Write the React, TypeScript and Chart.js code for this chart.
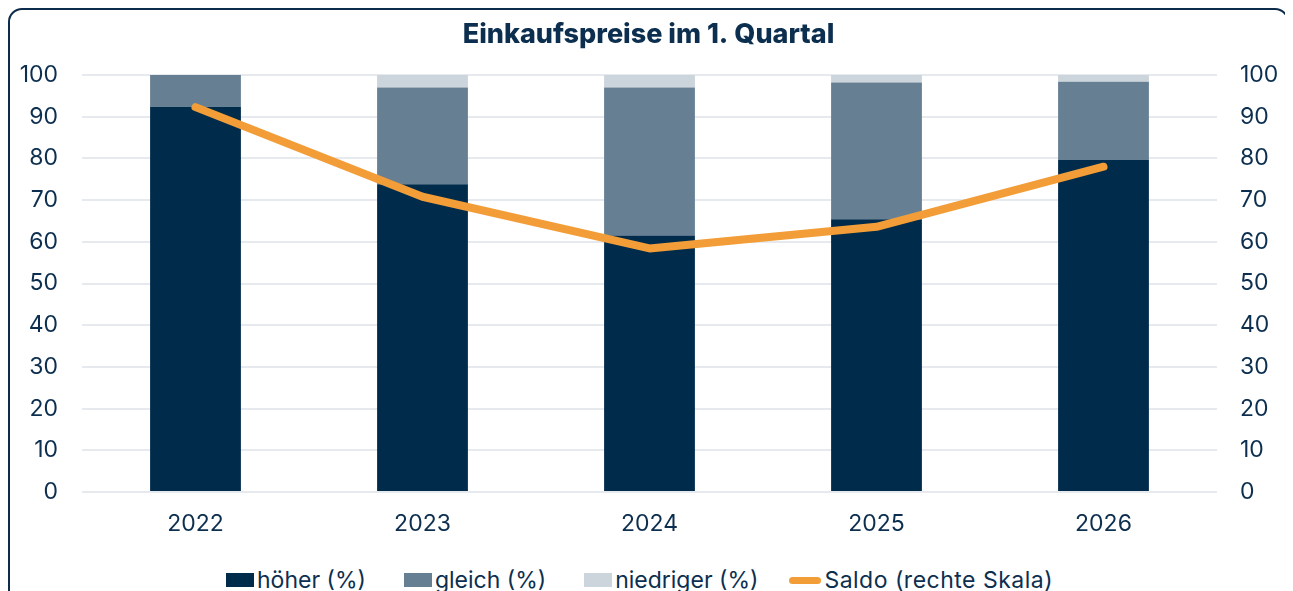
import React, { useEffect, useRef } from "react";
import { Chart, registerables } from "chart.js";

Chart.register(...registerables);

const categories = ["2022", "2023", "2024", "2025", "2026"];
const hoeher = [92.4, 73.8, 61.5, 65.4, 79.6];
const gleich = [7.6, 23.2, 35.5, 32.8, 18.8];
const niedriger = [0, 3.0, 3.0, 1.8, 1.6];
const saldo = [92.3, 70.8, 58.4, 63.6, 78.0];
const titleText = "Einkaufspreise im 1. Quartal";
const legendLabels = ["höher (%)", "gleich (%)", "niedriger (%)", "Saldo (rechte Skala)"];

const NAVY = "#002b4b";
const MID = "#667f93";
const LIGHT = "#ccd4dc";
const ORANGE = "#f29d37";
const TEXT = "#0d2f4f";
const FONT = "Inter, 'Noto Sans', sans-serif";

export default function App() {
  const ref = useRef<HTMLCanvasElement | null>(null);

  useEffect(() => {
    document.documentElement.style.overflow = "hidden";
    const canvas = ref.current;
    if (!canvas) return;
    const chart = new Chart(canvas, {
      type: "bar",
      data: {
        labels: categories,
        datasets: [
          {
            type: "line",
            label: legendLabels[3],
            data: saldo,
            yAxisID: "y2",
            borderColor: ORANGE,
            backgroundColor: ORANGE,
            borderWidth: 8,
            borderCapStyle: "round",
            borderJoinStyle: "round",
            pointRadius: 0,
            tension: 0,
            order: 0,
          } as any,
          { label: legendLabels[0], data: hoeher, backgroundColor: NAVY, yAxisID: "y", order: 1, stack: "s" },
          { label: legendLabels[1], data: gleich, backgroundColor: MID, yAxisID: "y", order: 1, stack: "s" },
          { label: legendLabels[2], data: niedriger, backgroundColor: LIGHT, yAxisID: "y", order: 1, stack: "s" },
        ],
      },
      options: {
        animation: false,
        responsive: false,
        maintainAspectRatio: false,
        layout: { padding: { top: 0, bottom: 13, left: 0, right: 0 } },
        datasets: { bar: { barPercentage: 0.4, categoryPercentage: 1 } },
        plugins: {
          legend: { display: false },
          tooltip: { enabled: false },
          title: {
            display: true,
            text: titleText,
            color: TEXT,
            font: { family: FONT, size: 27, weight: 800 },
            padding: { top: 8.8, bottom: 23.8 },
          },
        },
        scales: {
          x: {
            stacked: true,
            grid: { display: false, drawTicks: false },
            border: { display: false },
            ticks: { color: TEXT, font: { family: FONT, size: 23 }, padding: 18 },
            afterFit: (s: any) => { s.height = 50; },
          },
          y: {
            stacked: true,
            position: "left",
            min: 0,
            max: 100,
            ticks: { stepSize: 10, color: TEXT, font: { family: FONT, size: 23 }, padding: 24 },
            grid: { color: "#e6e9ee", lineWidth: 2, drawTicks: false },
            border: { display: false },
            afterFit: (s: any) => { s.width = 72; },
          },
          y2: {
            stacked: false,
            position: "right",
            min: 0,
            max: 100,
            ticks: { stepSize: 10, color: TEXT, font: { family: FONT, size: 23 }, padding: 23 },
            grid: { display: false, drawTicks: false },
            border: { display: false },
            afterFit: (s: any) => { s.width = 70; },
          },
        },
      } as any,
    });
    return () => chart.destroy();
  }, []);

  const boxColors = [NAVY, MID, LIGHT];

  return (
    <div style={{ height: 600, overflow: "hidden" }}>
      <div
        style={{
          position: "relative",
          width: 1281,
          height: 640,
          boxSizing: "border-box",
          border: "2px solid #0d2b4a",
          borderRadius: 14,
        }}
      >
        <canvas ref={ref} width={1277} height={545} style={{ position: "absolute", left: 0, top: 0, width: 1277, height: 545 }} />
        <div
          style={{
            position: "absolute",
            left: 216,
            top: 556,
            display: "flex",
            alignItems: "center",
            gap: 38,
            fontFamily: FONT,
            fontSize: 23,
            color: TEXT,
            whiteSpace: "nowrap",
            lineHeight: "28px",
          }}
        >
          {legendLabels.map((lbl, i) => (
            <div key={lbl} style={{ display: "flex", alignItems: "center", gap: 3, marginLeft: i === 3 ? -7 : 0 }}>
              {i < 3 ? (
                <span style={{ display: "inline-block", width: 28, height: 14, background: boxColors[i] }} />
              ) : (
                <span style={{ display: "inline-block", width: 32, height: 7, borderRadius: 4, background: ORANGE }} />
              )}
              <span style={i === 3 ? { letterSpacing: 0.5 } : undefined}>{lbl}</span>
            </div>
          ))}
        </div>
      </div>
    </div>
  );
}
